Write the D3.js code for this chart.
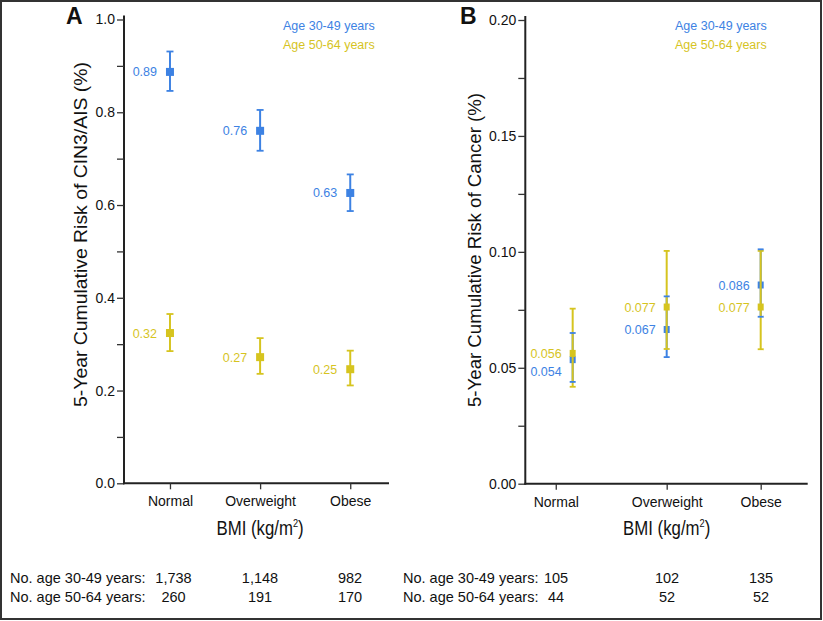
<!DOCTYPE html>
<html><head><meta charset="utf-8">
<script src="https://cdn.jsdelivr.net/npm/d3@7"></script>
<style>body{margin:0;background:#fff}svg{display:block}text{font-family:"Liberation Sans",Arial,sans-serif}</style>
</head><body>
<script>
// ---- data ----
const categories = ["Normal", "Overweight", "Obese"];
const seriesNames = ["Age 30-49 years", "Age 50-64 years"];
// Panel A: CIN3/AIS
const cinYoung = [0.887, 0.760, 0.626];
const cinYoungLo = [0.846, 0.717, 0.587];
const cinYoungHi = [0.931, 0.805, 0.666];
const cinOld = [0.324, 0.272, 0.246];
const cinOldLo = [0.285, 0.236, 0.211];
const cinOldHi = [0.365, 0.313, 0.286];
const cinYoungLabels = ["0.89", "0.76", "0.63"];
const cinOldLabels = ["0.32", "0.27", "0.25"];
// Panel B: cancer
const canYoung = [0.0535, 0.0665, 0.0857];
const canYoungLo = [0.0439, 0.0546, 0.0720];
const canYoungHi = [0.0650, 0.0808, 0.1011];
const canOld = [0.0562, 0.0762, 0.0762];
const canOldLo = [0.0418, 0.0581, 0.0580];
const canOldHi = [0.0755, 0.1004, 0.1004];
const canYoungLabels = ["0.054", "0.067", "0.086"];
const canOldLabels = ["0.056", "0.077", "0.077"];
// counts
const nYoungA = ["1,738", "1,148", "982"];
const nOldA = ["260", "191", "170"];
const nYoungB = ["105", "102", "135"];
const nOldB = ["44", "52", "52"];
// tick values
const ticksA = [0, 0.1, 0.2, 0.3, 0.4, 0.5, 0.6, 0.7, 0.8, 0.9, 1.0];
const ticksB = [0, 0.025, 0.05, 0.075, 0.1, 0.125, 0.15, 0.175, 0.2];
// x positions (category index on continuous scale)
const pointPosA = [1, 2, 3], tickPosA = [1, 2, 3];
const pointPosB = [1, 2, 3], tickPosB = [0.82, 2, 3];

const BLUE = "#3d82e3", YELLOW = "#d6c41f";
const W = 823, H = 621;
const svg = d3.select("body").append("svg").attr("width", W).attr("height", H);
svg.append("rect").attr("x", 1).attr("y", 1).attr("width", W - 3).attr("height", H - 3)
  .attr("fill", "#fff").attr("stroke", "#333").attr("stroke-width", 2);

function panel(cfg) {
  const g = svg.append("g");
  const x = d3.scaleLinear().domain(cfg.xDomain).range([cfg.x0, cfg.x1]);
  const y = d3.scaleLinear().domain(cfg.yDomain).range([cfg.yBottom, cfg.yTop]);

  // y axis
  const ya = g.append("g").attr("transform", `translate(${cfg.x0},0)`)
    .call(d3.axisLeft(y).tickValues(cfg.yTicks).tickSize(7).tickSizeOuter(0)
      .tickFormat((d, i) => i % 2 === 0 ? d3.format(cfg.fmt)(d) : ""));
  ya.select(".domain").attr("stroke", "#222").attr("stroke-width", 2)
    .attr("d", `M0,${cfg.yTop - 4}V${cfg.yBottom + 1}`);
  ya.selectAll(".tick line").attr("stroke", "#333").attr("stroke-width", 1.3);
  ya.selectAll(".tick text").attr("font-size", 14).attr("fill", "#111").attr("x", -9);

  // x axis
  const xa = g.append("g").attr("transform", `translate(0,${cfg.yBottom})`)
    .call(d3.axisBottom(x).tickValues(cfg.tickPos).tickSize(6).tickSizeOuter(0)
      .tickFormat((d, i) => categories[i]));
  xa.select(".domain").attr("stroke", "#222").attr("stroke-width", 2)
    .attr("d", `M${cfg.x0 - 1},0H${cfg.x1}`);
  xa.selectAll(".tick line").attr("stroke", "#333").attr("stroke-width", 1.3);
  xa.selectAll(".tick text").attr("font-size", 14).attr("fill", "#111").attr("y", 13);

  // axis titles
  g.append("text").attr("transform", `translate(${cfg.yLabelX},407) rotate(-90)`)
    .attr("font-size", 19).attr("fill", "#111")
    .attr("textLength", cfg.yLabelLen).attr("lengthAdjust", "spacingAndGlyphs")
    .text(cfg.yLabel);
  const bt = g.append("g").attr("transform", `translate(${x(2)},535) scale(0.84,1)`)
    .append("text").attr("text-anchor", "middle")
    .attr("font-size", 20).attr("fill", "#111");
  bt.append("tspan").text("BMI (kg/m");
  bt.append("tspan").attr("font-size", 11).attr("dy", -8).text("2");
  bt.append("tspan").attr("dy", 8).text(")");

  // panel letter
  g.append("text").attr("x", cfg.letterX).attr("y", 24).attr("font-size", 23)
    .attr("font-weight", "bold").attr("fill", "#111").text(cfg.letter);

  // legend
  seriesNames.forEach((s, i) => {
    g.append("text").attr("x", cfg.legendX).attr("y", 30 + i * 19).attr("font-size", 12.5)
      .attr("fill", i === 0 ? BLUE : YELLOW).text(s);
  });

  // series
  const drawBars = (vals, lo, hi, color) => {
    vals.forEach((v, i) => {
      const px = x(cfg.pointPos[i]);
      g.append("line").attr("x1", px).attr("x2", px).attr("y1", y(lo[i])).attr("y2", y(hi[i]))
        .attr("stroke", color).attr("stroke-width", 2);
    });
  };
  const drawCaps = (vals, lo, hi, color, cap) => {
    vals.forEach((v, i) => {
      const px = x(cfg.pointPos[i]);
      [lo[i], hi[i]].forEach(e => g.append("line").attr("x1", px - cap).attr("x2", px + cap)
        .attr("y1", y(e)).attr("y2", y(e)).attr("stroke", color).attr("stroke-width", 1.8));
    });
  };
  const drawMarkers = (vals, color, mw, mh) => {
    vals.forEach((v, i) => {
      const px = x(cfg.pointPos[i]);
      g.append("rect").attr("x", px - mw / 2).attr("y", y(v) - mh / 2).attr("width", mw).attr("height", mh)
        .attr("fill", color);
    });
  };
  const drawLabels = (labels, vals, color, dys) => {
    labels.forEach((l, i) => {
      const px = x(cfg.pointPos[i]);
      g.append("text").attr("x", px - cfg.labelGap).attr("y", y(vals[i]) + 4.5 + (dys ? dys[i] : 0))
        .attr("text-anchor", "end").attr("font-size", 12.5).attr("fill", color).text(l);
    });
  };
  cfg.draw({drawBars, drawCaps, drawMarkers, drawLabels});

  // counts
  const rows = [cfg.nYoung, cfg.nOld];
  rows.forEach((r, j) => {
    const ty = 583 + j * 19;
    g.append("text").attr("x", cfg.tableX).attr("y", ty).attr("font-size", 14.5).attr("fill", "#111")
      .text(j === 0 ? "No. age 30-49 years:" : "No. age 50-64 years:");
    r.forEach((v, i) => g.append("text").attr("x", cfg.countX[i]).attr("y", ty).attr("text-anchor", "middle")
      .attr("font-size", 14.5).attr("fill", "#111").text(v));
  });
}

panel({
  x0: 124, x1: 389, xDomain: [0.49, 3.43], yBottom: 483.3, yTop: 19.5, yDomain: [0, 1],
  yTicks: ticksA, fmt: ".1f", tickPos: tickPosA, pointPos: pointPosA,
  yLabel: "5-Year Cumulative Risk of CIN3/AIS (%)", yLabelX: 87, yLabelLen: 345,
  letter: "A", letterX: 66, legendX: 283, labelGap: 13,
  nYoung: nYoungA, nOld: nOldA, tableX: 10, countX: [173.5, 260, 350],
  draw: ({drawBars, drawCaps, drawMarkers, drawLabels}) => {
    drawBars(cinYoung, cinYoungLo, cinYoungHi, BLUE);
    drawCaps(cinYoung, cinYoungLo, cinYoungHi, BLUE, 3.5);
    drawMarkers(cinYoung, BLUE, 8, 8);
    drawLabels(cinYoungLabels, cinYoung, BLUE);
    drawBars(cinOld, cinOldLo, cinOldHi, YELLOW);
    drawCaps(cinOld, cinOldLo, cinOldHi, YELLOW, 3.5);
    drawMarkers(cinOld, YELLOW, 8, 8);
    drawLabels(cinOldLabels, cinOld, YELLOW);
  }
});

panel({
  x0: 525.3, x1: 807.7, xDomain: [0.496, 3.5], yBottom: 483.7, yTop: 20, yDomain: [0, 0.2],
  yTicks: ticksB, fmt: ".2f", tickPos: tickPosB, pointPos: pointPosB,
  yLabel: "5-Year Cumulative Risk of Cancer (%)", yLabelX: 481, yLabelLen: 314,
  letter: "B", letterX: 460, legendX: 675, labelGap: 11,
  nYoung: nYoungB, nOld: nOldB, tableX: 403, countX: [556, 667, 761],
  draw: ({drawBars, drawCaps, drawMarkers, drawLabels}) => {
    drawBars(canYoung, canYoungLo, canYoungHi, BLUE);
    drawMarkers(canYoung, BLUE, 6, 7);
    drawBars(canOld, canOldLo, canOldHi, YELLOW);
    drawMarkers(canOld, YELLOW, 6, 7);
    drawCaps(canOld, canOldLo, canOldHi, YELLOW, 3);
    drawCaps(canYoung, canYoungLo, canYoungHi, BLUE, 3);
    drawLabels(canYoungLabels, canYoung, BLUE, [12, 0, 0]);
    drawLabels(canOldLabels, canOld, YELLOW);
  }
});
</script>
</body></html>
